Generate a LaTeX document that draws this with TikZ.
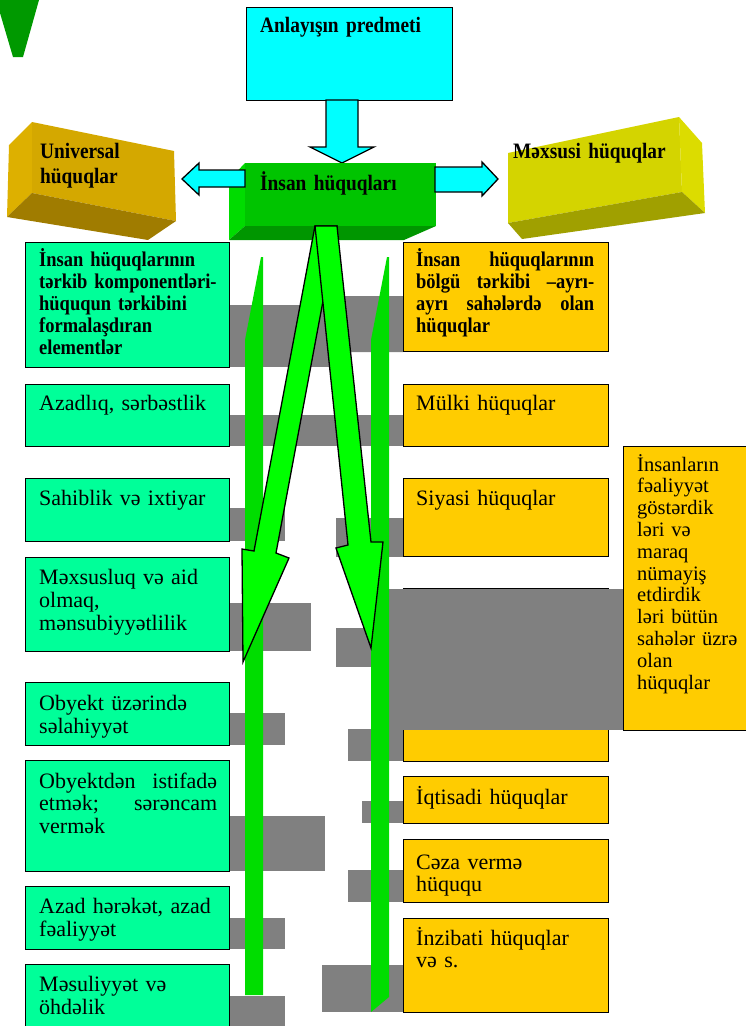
\documentclass[tikz,border=0pt]{standalone}
\usepackage{fontspec}
\setmainfont{Liberation Serif}
\newfontfamily\bcond[FakeStretch=0.88]{Liberation Serif Bold}
\definecolor{cyanf}{HTML}{00FFFF}
\definecolor{tealf}{HTML}{00FF99}
\definecolor{orangef}{HTML}{FFCC00}
\definecolor{grayf}{HTML}{808080}
\definecolor{arrowg}{HTML}{00FF00}
\definecolor{barg}{HTML}{00DD00}
\definecolor{gfront}{HTML}{00C400}
\definecolor{gleft}{HTML}{00DC00}
\definecolor{gbottom}{HTML}{009600}
\definecolor{tri}{HTML}{009900}
\definecolor{ufront}{HTML}{D4A800}
\definecolor{uleft}{HTML}{DDB000}
\definecolor{ubottom}{HTML}{A07C00}
\definecolor{mfront}{HTML}{D4D400}
\definecolor{mright}{HTML}{DCDC00}
\definecolor{mbottom}{HTML}{A0A000}

\begin{document}

\begin{tikzpicture}[x=1pt,y=-1pt,
  box/.style={draw=black,line width=1.4pt,inner sep=0pt,anchor=north west},
  lbox/.style={box,fill=tealf,minimum width=204pt},
  rbox/.style={box,fill=orangef,minimum width=205pt},
  rtext/.style={anchor=base west,inner sep=0pt,text width=185pt,align=left,font=\fontsize{22}{23.5}\selectfont},
  btext/.style={anchor=base west,inner sep=0pt,text width=185pt,align=left,font=\bcond\fontsize{22}{25}\selectfont},
  shad/.style={fill=grayf},
  blockarrow/.style={fill=cyanf,draw=black,line width=1.3pt,line join=miter},
  bigarrow/.style={fill=arrowg,draw=black,line width=1.3pt,line join=miter},
  bar/.style={fill=barg}]
\useasboundingbox (0,0) rectangle (745,1026);

% top-left triangle
\fill[tri] (0,0) -- (39,0) -- (23,57) -- (13,57) -- (0,13) -- cycle;

% Anlayisin predmeti
\node[box,fill=cyanf,minimum width=206pt,minimum height=93pt] (top) at (246,7) {};
\node[btext] (toptext) at (260,32) {Anlayışın predmeti};
\draw[blockarrow] (326,100) -- (358,100) -- (358,147) -- (374,147) -- (342,163) -- (310,147) -- (326,147) -- cycle;

% Universal box
\fill[uleft] (9,145) -- (32,122) -- (32,193) -- (7,217) -- cycle;
\fill[ufront] (32,122) -- (174,151) -- (176,221) -- (32,193) -- cycle;
\fill[ubottom] (7,217) -- (32,193) -- (176,221) -- (148,240) -- cycle;
\node[btext,text width=130pt] (univ) at (40,158) {Universal\\hüquqlar};

% Mexsusi box
\fill[mfront] (508,153) -- (679,117) -- (682,192) -- (508,223) -- cycle;
\fill[mright] (679,117) -- (702,143) -- (705,213) -- (682,192) -- cycle;
\fill[mbottom] (508,223) -- (682,192) -- (705,213) -- (522,239) -- cycle;
\node[btext] (mexs) at (513,158) {Məxsusi hüquqlar};

% gray shadows
\fill[shad] (229,305) rectangle (330,367);
\fill[shad] (330,305) -- (345,305) -- (345,296) -- (403,296) -- (403,352) -- (330,352) -- cycle;
\fill[shad] (229,415) rectangle (403,446);
\fill[shad] (229,508) rectangle (285,541);
\fill[shad] (336,518) rectangle (403,557);
\fill[shad] (229,603) rectangle (311,651);
\fill[shad] (336,628) rectangle (400,667);
\fill[shad] (348,729) rectangle (403,761);
\fill[shad] (229,713) rectangle (285,745);
\fill[shad] (229,816) rectangle (325,871);
\fill[shad] (362,801) rectangle (403,823);
\fill[shad] (229,918) rectangle (285,949);
\fill[shad] (348,870) rectangle (403,902);
\fill[shad] (322,965) rectangle (403,1012);
\fill[shad] (229,996) rectangle (285,1030);

% left boxes
\node[lbox,minimum height=125pt] (l1) at (25,242) {};
\node[lbox,minimum height=62pt] (l2) at (25,384) {};
\node[lbox,minimum height=63pt] (l3) at (25,478) {};
\node[lbox,minimum height=94pt] (l4) at (25,557) {};
\node[lbox,minimum height=63pt] (l5) at (25,682) {};
\node[lbox,minimum height=111pt] (l6) at (25,760) {};
\node[lbox,minimum height=63pt] (l7) at (25,886) {};
\node[lbox,minimum height=80pt] (l8) at (25,964) {};

% right boxes
\node[rbox,minimum height=109pt] (r1) at (403,242) {};
\node[rbox,minimum height=62pt] (r2) at (403,384) {};
\node[rbox,minimum height=78pt] (r3) at (403,478) {};
\node[rbox,minimum height=173pt] (r4) at (403,588) {};
\node[rbox,minimum height=47pt] (r5) at (403,776) {};
\node[rbox,minimum height=63pt] (r6) at (403,839) {};
\node[rbox,minimum height=94pt] (r7) at (403,918) {};

% big gray block and tall box
\fill[shad] (388,589) rectangle (623,730);
\node[box,fill=orangef,minimum width=140pt,minimum height=284pt] (tall) at (623,446) {};

% texts left
\node[btext,font=\bcond\fontsize{21}{22}\selectfont] (l1t) at (39,266)
  {İnsan hüquqlarının\\tərkib komponentləri-\\hüququn tərkibini\\formalaşdıran\\elementlər};
\node[rtext] (l2t) at (39,410) {Azadlıq, sərbəstlik};
\node[rtext] (l3t) at (39,505) {Sahiblik və ixtiyar};
\node[rtext,font=\fontsize{22}{23}\selectfont] (l4t) at (39,584) {Məxsusluq və aid\\olmaq,\\mənsubiyyətlilik};
\node[rtext] (l5t) at (39,710) {Obyekt üzərində\\səlahiyyət};
\node[rtext,align=justify,text width=178pt,font=\fontsize{22}{22.5}\selectfont] (l6t) at (39,788)
  {\hyphenpenalty=10000 Obyektdən istifadə\linebreak etmək; sərəncam\linebreak vermək};
\node[rtext] (l7t) at (39,913) {Azad hərəkət, azad\\fəaliyyət};
\node[rtext] (l8t) at (39,991) {Məsuliyyət və\\öhdəlik};

% texts right
\node[btext,align=justify,text width=178pt,font=\bcond\fontsize{21}{22}\selectfont] (r1t) at (416,266)
  {\hyphenpenalty=10000 İnsan hüquqlarının\linebreak bölgü tərkibi –ayrı-\linebreak ayrı sahələrdə olan\linebreak hüquqlar};
\node[rtext] (r2t) at (416,410) {Mülki hüquqlar};
\node[rtext] (r3t) at (416,505) {Siyasi hüquqlar};
\node[rtext] (r5t) at (416,804) {İqtisadi hüquqlar};
\node[rtext,font=\fontsize{22}{22}\selectfont] (r6t) at (416,869) {Cəza vermə\\hüququ};
\node[rtext,font=\fontsize{22}{22}\selectfont] (r7t) at (416,945) {İnzibati hüquqlar\\və s.};
\node[rtext,text width=105pt,font=\fontsize{20.5}{21.8}\selectfont] (tallt) at (637,471)
  {İnsanların\\fəaliyyət\\göstərdik\\ləri və\\maraq\\nümayiş\\etdirdik\\ləri bütün\\sahələr üzrə\\olan\\hüquqlar};

% green central box
\fill[gleft] (229,180) -- (245,163) -- (245,226) -- (229,240) -- cycle;
\fill[gfront] (245,163) rectangle (436,226);
\fill[gbottom] (229,240) -- (245,226) -- (436,226) -- (404,240) -- cycle;
\node[btext] (ins) at (260,190) {İnsan hüquqları};

% cyan side arrows
\draw[blockarrow] (245,170) -- (199,170) -- (199,163) -- (182,179) -- (199,195) -- (199,187) -- (245,187) -- cycle;
\draw[blockarrow] (435,167) -- (482,167) -- (482,162) -- (498,179) -- (482,196) -- (482,192) -- (435,192) -- cycle;

% vertical bars
\fill[bar] (245,340) -- (261,257) -- (263,257) -- (263,995) -- (245,995) -- cycle;
\fill[bar] (371,340) -- (387,257) -- (389,257) -- (389,997) -- (371,1012) -- cycle;

% big green arrows
\draw[bigarrow] (337,226) -- (276,553) -- (289,558) -- (243,662) -- (242,549) -- (254,551) -- (315,226) -- cycle;
\draw[bigarrow] (315,226) -- (348,545) -- (336,548) -- (371,648) -- (383,542) -- (371,542) -- (337,226) -- cycle;
\end{tikzpicture}

\end{document}
